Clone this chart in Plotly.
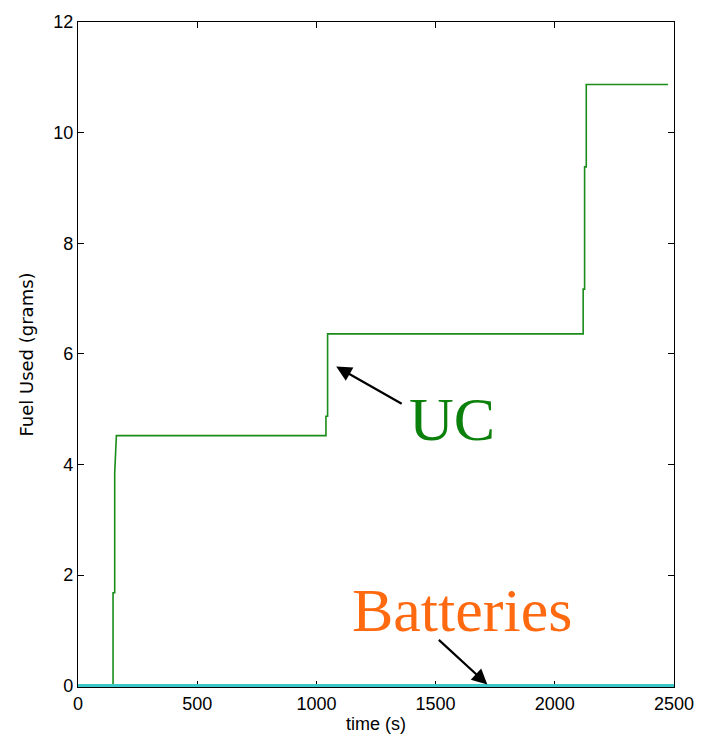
import plotly.graph_objects as go

# UC fuel used (grams) vs time (s)
uc_time = [0, 147, 147, 154, 154, 161, 1040, 1040, 1047, 1047, 2119, 2119, 2125, 2125, 2132, 2132, 2475]
uc_fuel = [0, 0, 1.68, 1.68, 3.85, 4.52, 4.52, 4.87, 4.87, 6.36, 6.36, 7.17, 7.17, 9.38, 9.38, 10.87, 10.87]

# Batteries fuel used
bat_time = [0, 2500]
bat_fuel = [0, 0]

x_ticks = [0, 500, 1000, 1500, 2000, 2500]
y_ticks = [0, 2, 4, 6, 8, 10, 12]

fig = go.Figure()
fig.add_trace(go.Scatter(x=uc_time, y=uc_fuel, mode="lines",
                         line=dict(color="#1a8c1a", width=1.6), showlegend=False))
fig.add_trace(go.Scatter(x=bat_time, y=bat_fuel, mode="lines",
                         line=dict(color="#3cc8c8", width=3), showlegend=False, cliponaxis=False))

tick_font = dict(family="Liberation Sans Narrow, Arial Narrow, Liberation Sans, Arial", size=18, color="black")
axis_common = dict(showline=True, linecolor="black", linewidth=1.2, mirror="ticks",
                   ticks="inside", ticklen=6, tickcolor="black", tickwidth=1.2,
                   showgrid=False, zeroline=False, layer="below traces", tickfont=tick_font)

fig.update_xaxes(range=[0, 2500], tickvals=x_ticks, ticktext=[str(v) for v in x_ticks],
                 title=dict(text="time (s)", font=dict(family="Liberation Sans, Arial", size=18, color="black"), standoff=4),
                 **axis_common)
fig.update_yaxes(range=[-0.025, 12], tickvals=y_ticks, ticktext=[str(v) for v in y_ticks],
                 title=dict(text="Fuel Used (grams)", font=dict(family="DejaVu Sans, Arial", size=18, color="black"), standoff=14),
                 **axis_common)

serif = "Liberation Serif, Times New Roman, serif"
fig.add_annotation(x=1083, y=5.77, xref="x", yref="y", ax=67, ay=38,
                   showarrow=True, arrowhead=2, arrowsize=1.4, arrowwidth=2.2, arrowcolor="black", text="")
fig.add_annotation(x=1717, y=0.02, xref="x", yref="y", ax=-50, ay=-46,
                   showarrow=True, arrowhead=2, arrowsize=1.4, arrowwidth=2.2, arrowcolor="black", text="")
fig.add_annotation(x=1570, y=4.82, xref="x", yref="y", text="UC", showarrow=False,
                   font=dict(family=serif, size=62, color="#0b800b"))
fig.add_annotation(x=1612, y=1.36, xref="x", yref="y", text="Batteries", showarrow=False,
                   font=dict(family=serif, size=62, color="#ff6a10"))

fig.update_layout(width=706, height=754, margin=dict(l=78, r=28, t=17, b=67),
                  plot_bgcolor="white", paper_bgcolor="white")

fig.write_html("out.html")
